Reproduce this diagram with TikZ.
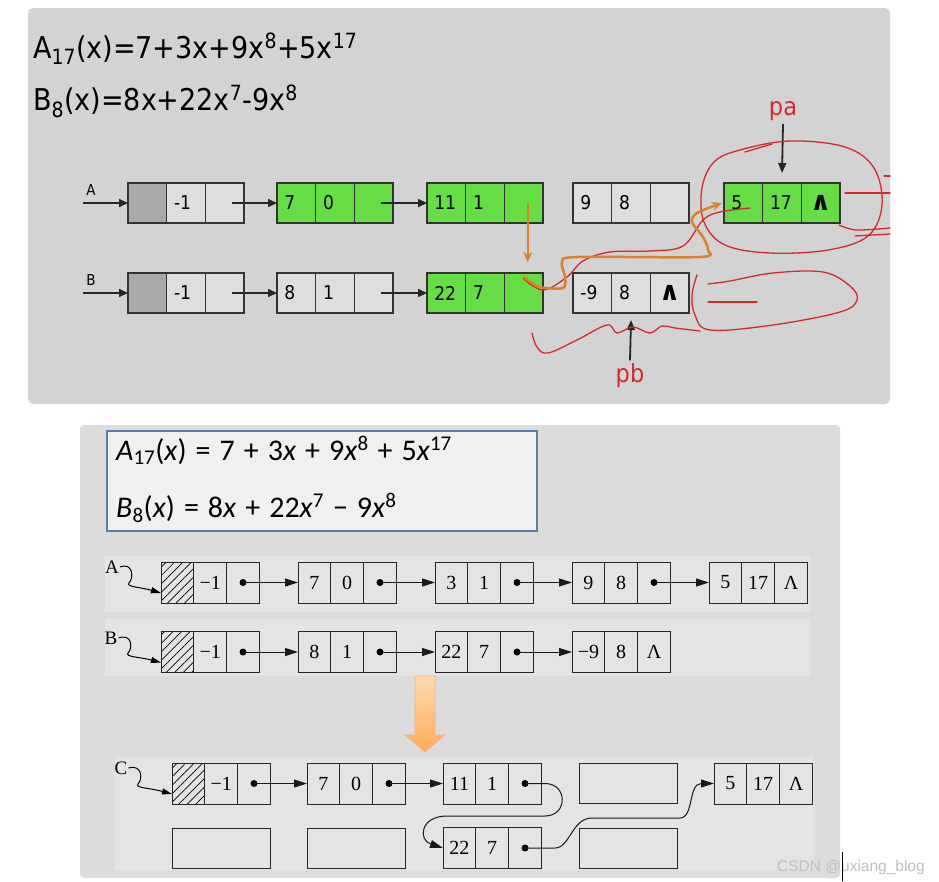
\documentclass[tikz,border=0pt]{standalone}
\usepackage{fontspec}
\setmainfont{Liberation Serif}
\newfontfamily\tfont{DejaVu Sans Condensed}
\newfontfamily\dfont{DejaVu Sans}
\newfontfamily\cfont{Carlito}
\newfontfamily\wfont{Liberation Sans}
\usetikzlibrary{positioning,arrows.meta,patterns.meta}
\definecolor{panelA}{HTML}{D3D3D3}
\definecolor{panelB}{HTML}{DCDCDC}
\definecolor{strip}{HTML}{E4E4E4}
\definecolor{lgreen}{HTML}{66DD44}
\definecolor{cellgray}{HTML}{DEDEDE}
\definecolor{headgray}{HTML}{A9A9A9}
\definecolor{orng}{HTML}{D9822B}
\definecolor{pen}{HTML}{D42A2A}
\definecolor{boxblue}{HTML}{5B7FA8}
\newcommand{\gp}{\hspace{9pt}}
\begin{document}
\begin{tikzpicture}[x=1pt, y=-1pt,
  tcell/.style={draw=black!80, line width=1.3pt, minimum width=38.7pt, minimum height=40pt, inner sep=0pt, outer sep=0pt, text width=24pt, align=left, font=\tfont\fontsize{19}{19}\selectfont},
  tcell3/.style={tcell, align=center},
  bcell/.style={draw=black!85, line width=1pt, fill=strip, minimum width=32.8pt, minimum height=41pt, inner sep=0pt, outer sep=0pt, font=\fontsize{20}{20}\selectfont},
  slot/.style={draw=black!85, line width=1pt, fill=strip, minimum width=98.4pt, minimum height=40pt, outer sep=0pt},
  tarr/.style={-{Triangle[length=9pt,width=8pt]}, line width=2pt, black!85},
  barr/.style={-{Triangle[length=13pt,width=8pt]}, line width=1pt, black!90},
  oarr/.style={-{Stealth[length=10pt,width=9pt]}, line width=2.5pt, orng},
  penline/.style={pen, line width=1.3pt, line cap=round}]
\useasboundingbox[fill=white] (0,0) rectangle (939,881);
% top panel
\fill[panelA, rounded corners=5pt] (28,8) rectangle (890,404);
\node[anchor=base west, inner sep=0pt, font=\tfont\fontsize{30}{30}\selectfont] (eqa) at (33,58) {A\textsubscript{17}(x)=7+3x+9x\textsuperscript{8}+5x\textsuperscript{17}};
\node[anchor=base west, inner sep=0pt, font=\tfont\fontsize{30}{30}\selectfont] (eqb) at (33,110) {B\textsubscript{8}(x)=8x+22x\textsuperscript{7}-9x\textsuperscript{8}};
% head nodes
\foreach \r/\py in {a/203, b/293} {
  \node[tcell, fill=headgray] (\r0-1) at (147.35,\py) {};
  \node[tcell, fill=cellgray, right=0pt of \r0-1] (\r0-2) {-1};
  \node[tcell3, fill=cellgray, right=0pt of \r0-2] (\r0-3) {};
}
% list nodes
\foreach \n/\px/\py/\ca/\cb/\cc/\f in {a1/277/203/7/0//lgreen, a2/427/203/11/1//lgreen, a3/573/203/9/8//cellgray, a4/724/203/5/17/{\dfont\bfseries\fontsize{26}{26}\selectfont ∧}/lgreen, b1/277/293/8/1//cellgray, b2/427/293/22/7//lgreen, b3/573/293/-9/8/{\dfont\bfseries\fontsize{26}{26}\selectfont ∧}/cellgray} {
  \node[tcell, fill=\f] (\n-1) at (\px+19.35,\py) {\ca};
  \node[tcell, fill=\f, right=0pt of \n-1] (\n-2) {\cb};
  \node[tcell3, fill=\f, right=0pt of \n-2] (\n-3) {\cc};
}
\node[font=\tfont\fontsize{15}{15}\selectfont] (lba) at (91,190) {A};
\node[font=\tfont\fontsize{15}{15}\selectfont] (lbb) at (91,280) {B};
\coordinate (ina) at (83,203);
\coordinate (inb) at (83,293);
\draw[tarr] (ina) -- (a0-1.west);
\draw[tarr] (inb) -- (b0-1.west);
\foreach \s/\t in {a0/a1, a1/a2, b0/b1, b1/b2}
  \draw[tarr] ([xshift=7pt]\s-3.center) -- (\t-1.west);
% pointers pa, pb
\node[pen, font=\tfont\fontsize{25}{25}\selectfont] (pa) at (783,111) {pa};
\node[pen, font=\tfont\fontsize{25}{25}\selectfont] (pb) at (630,376) {pb};
\draw[-{Triangle[length=10pt,width=8pt]}, line width=1.8pt, black!85] (pa.south) -- ([yshift=10pt]a4-2.north);
\draw[-{Triangle[length=10pt,width=8pt]}, line width=1.8pt, black!85] (pb.north) -- ([yshift=-7pt]b3-2.south);
% red scribbles
\draw[penline] plot[smooth cycle, tension=0.6] coordinates {(740,150) (790,141) (845,147) (874,168) (882,205) (868,236) (828,250) (770,253) (725,245) (704,222) (702,188) (714,162)};
\draw[penline] (745,152) -- (772,144);
\draw[penline] (845,193) -- (890,193);
\draw[penline] (884,176) -- (890,176);
\draw[penline] plot[smooth] coordinates {(839,225) (856,230) (890,228)};
\draw[penline] (855,236) -- (890,234);
\draw[penline] plot[smooth, tension=0.6] coordinates {(523,278) (543,290) (567,277) (583,261) (610,252) (650,251) (683,246) (703,220) (720,212) (750,208)};
\draw[penline] plot[smooth, tension=0.6] coordinates {(708,284) (730,281) (773,273) (823,272) (850,286) (857,300) (840,312) (773,325) (710,330) (695,315) (692,295) (697,275)};
\draw[penline] (708,302) -- (757,302);
\draw[penline] plot[smooth, tension=0.6] coordinates {(532,333) (537,347) (548,353) (577,340) (607,325) (617,333) (633,327) (650,333) (662,326) (675,328) (700,331)};
% orange moves
\draw[oarr] ([xshift=4pt]a2-3.center) -- ([xshift=4pt,yshift=11pt]b2-3.north);
\draw[oarr] plot[smooth, tension=0.5] coordinates {([yshift=16pt]b2-3.center) (540,287) (563,288) (565,277) (562,262) (577,257) (700,257) (708,250) (703,237) (692,222) (697,213) ([xshift=-2pt]a4-1.west)};
% bottom panel
\fill[panelB, rounded corners=4pt] (80,425) rectangle (840,878);
\fill[strip] (105,556) rectangle (810,612);
\fill[strip] (105,619) rectangle (810,676);
\fill[strip] (115,757) rectangle (814,870);
\draw[boxblue, line width=1.5pt, fill=black!6] (107,431) rectangle (537,531);
\node[anchor=base west, inner sep=0pt, font=\cfont\fontsize{30}{30}\selectfont] (eqc) at (116,460) {\textit{A}\textsubscript{17}(\textit{x})\gp=\gp7\gp+\gp3\textit{x}\gp+\gp9\textit{x}\textsuperscript{8}\gp+\gp5\textit{x}\textsuperscript{17}};
\node[anchor=base west, inner sep=0pt, font=\cfont\fontsize{30}{30}\selectfont] (eqd) at (116,517) {\textit{B}\textsubscript{8}(\textit{x})\gp=\gp8\textit{x}\gp+\gp22\textit{x}\textsuperscript{7}\gp−\gp9\textit{x}\textsuperscript{8}};
% bottom lists
\foreach \r/\px/\py in {la0/161/582.5, lb0/161/652, lc0/172/783.5} {
  \node[bcell, pattern={Lines[angle=45,distance=6pt,line width=0.7pt]}] (\r-1) at (\px+16.4,\py) {};
  \node[bcell, right=0pt of \r-1] (\r-2) {−1};
  \node[bcell, right=0pt of \r-2] (\r-3) {};
}
\foreach \n/\px/\py/\ca/\cb/\cc in {la1/298/582.5/7/0/, la2/435/582.5/3/1/, la3/572/582.5/9/8/, la4/709/582.5/5/17/Λ, lb1/298/652/8/1/, lb2/435/652/22/7/, lb3/572/652/−9/8/Λ, lc1/307/783.5/7/0/, lc2/443/783.5/11/1/, lc3/443/848/22/7/, lc4/714/783.5/5/17/Λ} {
  \node[bcell] (\n-1) at (\px+16.4,\py) {\ca};
  \node[bcell, right=0pt of \n-1] (\n-2) {\cb};
  \node[bcell, right=0pt of \n-2] (\n-3) {\cc};
}
\node[slot] (s1) at (628.2,783.5) {};
\node[slot] (s2) at (221.2,848) {};
\node[slot] (s3) at (356.2,848) {};
\node[slot] (s4) at (628.2,848) {};
\foreach \s/\t in {la0/la1, la1/la2, la2/la3, la3/la4, lb0/lb1, lb1/lb2, lb2/lb3, lc0/lc1, lc1/lc2} {
  \fill (\s-3) circle (3.5);
  \draw[barr] (\s-3.center) -- (\t-1.west);
}
\fill (lc2-3) circle (3.5);
\fill (lc3-3) circle (3.5);
\draw[barr] (lc2-3.center) -- (545,783.5) .. controls (568,783.5) and (568,816) .. (545,816) -- (447,816) .. controls (420,816) and (418,840) .. (lc3-1.west);
\draw[barr] (lc3-3.center) -- (555,848) .. controls (570,848) and (572,818) .. (592,818) -- (680,818) .. controls (694,818) and (688,783.5) .. (lc4-1.west);
% list labels
\node[font=\fontsize{19}{19}\selectfont, inner sep=1pt] (ta) at (112,567) {A};
\node[font=\fontsize{19}{19}\selectfont, inner sep=1pt] (tb) at (111,638) {B};
\node[font=\fontsize{19}{19}\selectfont, inner sep=1pt] (tc) at (121,768) {C};
\draw[-{Triangle[length=10pt,width=6pt]}, line width=1pt] (ta.east) .. controls (133,562) and (134,578) .. (129,583) .. controls (126,587) and (140,587) .. ([yshift=10pt]la0-1.south west);
\draw[-{Triangle[length=10pt,width=6pt]}, line width=1pt] (tb.east) .. controls (132,633) and (133,648) .. (128,653) .. controls (125,657) and (140,657) .. ([yshift=10pt]lb0-1.south west);
\draw[-{Triangle[length=10pt,width=6pt]}, line width=1pt] (tc.east) .. controls (142,764) and (143,779) .. (138,784) .. controls (135,788) and (150,788) .. ([yshift=10pt]lc0-1.south west);
% merge arrow
\draw[draw=orange!70!brown!60, line width=0.6pt, top color=orange!30, bottom color=orange!65] (415,676) -- (435,676) -- (435,735) -- (445,735) -- (425,752) -- (405,735) -- (415,735) -- cycle;
% watermark
\node[anchor=base west, inner sep=0pt, text=white!75!black, font=\wfont\fontsize{15.5}{15.5}\selectfont] (wm) at (777,871) {CSDN @uxiang\_blog};
\draw[line width=1pt] (842,852) -- (842,881);
\end{tikzpicture}
\end{document}
